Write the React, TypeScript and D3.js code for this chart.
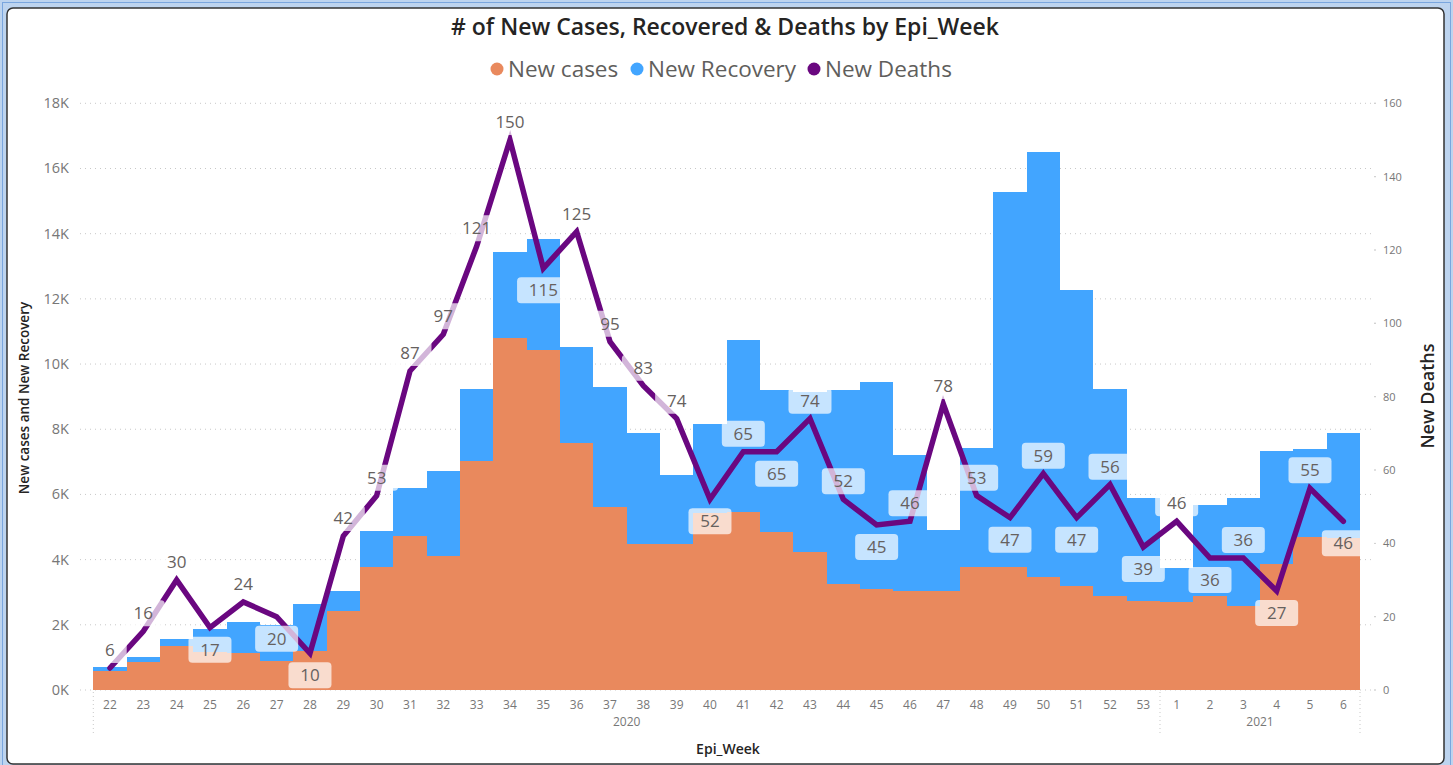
import { useEffect, useRef } from 'react'
import * as d3 from 'd3'

const weeks = ['22', '23', '24', '25', '26', '27', '28', '29', '30', '31', '32', '33', '34', '35', '36', '37', '38', '39', '40', '41', '42', '43', '44', '45', '46', '47', '48', '49', '50', '51', '52', '53', '1', '2', '3', '4', '5', '6']
const years = ['2020', '2020', '2020', '2020', '2020', '2020', '2020', '2020', '2020', '2020', '2020', '2020', '2020', '2020', '2020', '2020', '2020', '2020', '2020', '2020', '2020', '2020', '2020', '2020', '2020', '2020', '2020', '2020', '2020', '2020', '2020', '2020', '2021', '2021', '2021', '2021', '2021', '2021']
const newCases = [590, 850, 1360, 1160, 1150, 900, 1200, 2430, 3760, 4730, 4120, 7030, 10790, 10430, 7570, 5600, 4480, 4480, 5420, 5450, 4840, 4220, 3250, 3100, 3050, 3050, 3760, 3760, 3460, 3200, 2890, 2740, 2690, 2890, 2590, 3870, 4680, 4650]
const newRecovery = [110, 150, 200, 710, 930, 1080, 1440, 620, 1130, 1460, 2610, 2220, 2650, 3420, 2960, 3700, 3390, 2110, 2740, 5290, 4360, 4930, 5950, 6360, 4160, 1860, 3650, 11520, 13050, 9070, 6360, 3140, 1040, 2780, 3290, 3470, 2710, 3220]
const newDeaths = [6, 16, 30, 17, 24, 20, 10, 42, 53, 87, 97, 121, 150, 115, 125, 95, 83, 74, 52, 65, 65, 74, 52, 45, 46, 78, 53, 47, 59, 47, 56, 39, 46, 36, 36, 27, 55, 46]
// label above (1) or below (0) the point, as Power BI placed them
const labelAbove = [1, 1, 1, 0, 1, 0, 0, 1, 1, 1, 1, 1, 1, 0, 1, 1, 1, 1, 0, 1, 0, 1, 1, 0, 1, 1, 1, 0, 1, 0, 1, 0, 1, 0, 1, 0, 1, 0]
const leftTicks = [0, 2000, 4000, 6000, 8000, 10000, 12000, 14000, 16000, 18000]
const rightTicks = [0, 20, 40, 60, 80, 100, 120, 140, 160]

const W = 1453
const H = 765
const FONT = "'Segoe UI', 'Open Sans', sans-serif"
const ORANGE = '#E9895D'
const BLUE = '#42A5FF'
const PURPLE = '#6A0780'

export default function App() {
  const svgRef = useRef<SVGSVGElement>(null)

  useEffect(() => {
    if (!svgRef.current) return
    const svg = d3.select(svgRef.current)
    svg.selectAll('*').remove()

    const left = 93.3
    const right = 1360
    const top = 103.3
    const bottom = 690

    // frame
    svg.append('rect').attr('width', W).attr('height', H).attr('fill', '#BDD4EF')
    svg.append('rect').attr('x', 2.5).attr('y', 2.5).attr('width', W - 5).attr('height', H).attr('fill', 'none')
      .attr('stroke', '#7AA6DE').attr('stroke-width', 1)
    svg.append('rect').attr('x', 7).attr('y', 8).attr('width', 1437).attr('height', 756).attr('rx', 6)
      .attr('fill', '#fff').attr('stroke', '#333').attr('stroke-width', 1.5)

    const x = d3.scaleBand<string>().domain(d3.range(weeks.length).map(String)).range([left, right]).padding(0)
    const y = d3.scaleLinear().domain([0, 18000]).range([bottom, top])
    const y2 = d3.scaleLinear().domain([0, 160]).range([bottom, top])

    // title
    svg.append('text').attr('x', 725).attr('y', 35).attr('text-anchor', 'middle')
      .style('font-family', FONT).style('font-size', '23px').style('font-weight', '600').style('fill', '#252423')
      .text('# of New Cases, Recovered & Deaths by Epi_Week')

    // legend
    const legend = [
      { label: 'New cases', color: ORANGE, cx: 497 },
      { label: 'New Recovery', color: BLUE, cx: 637 },
      { label: 'New Deaths', color: PURPLE, cx: 814 },
    ]
    legend.forEach(l => {
      svg.append('circle').attr('cx', l.cx).attr('cy', 69).attr('r', 6.5).attr('fill', l.color)
      svg.append('text').attr('x', l.cx + 11).attr('y', 77)
        .style('font-family', FONT).style('font-size', '22.5px').style('fill', '#605E5C').text(l.label)
    })

    // gridlines
    svg.append('g').selectAll('line').data(leftTicks).enter().append('line')
      .attr('x1', 80).attr('x2', 1372).attr('y1', d => y(d)).attr('y2', d => y(d))
      .attr('stroke', '#C8C8C8').attr('stroke-width', 1).attr('stroke-dasharray', '1,4')

    // left axis
    svg.append('g').selectAll('text').data(leftTicks).enter().append('text')
      .attr('x', 69).attr('y', d => y(d) + 5).attr('text-anchor', 'end')
      .style('font-family', FONT).style('font-size', '14.5px').style('fill', '#777')
      .text(d => `${d / 1000}K`)

    // right axis
    svg.append('g').selectAll('text').data(rightTicks).enter().append('text')
      .attr('x', 1383).attr('y', d => y2(d) + 4)
      .style('font-family', FONT).style('font-size', '11px').style('fill', '#777')
      .text(d => d)
    svg.append('g').selectAll('circle').data(rightTicks).enter().append('circle')
      .attr('cx', 1375).attr('cy', d => y2(d)).attr('r', 0.7).attr('fill', '#aaa')

    // axis titles
    svg.append('text').attr('transform', 'translate(29,398) rotate(-90)').attr('text-anchor', 'middle')
      .style('font-family', FONT).style('font-size', '13.5px').style('font-weight', '600').style('fill', '#252423')
      .text('New cases and New Recovery')
    svg.append('text').attr('transform', 'translate(1434,396) rotate(-90)').attr('text-anchor', 'middle')
      .style('font-family', FONT).style('font-size', '18px').style('font-weight', '600').style('fill', '#252423')
      .text('New Deaths')
    svg.append('text').attr('x', 728).attr('y', 754).attr('text-anchor', 'middle')
      .style('font-family', FONT).style('font-size', '14px').style('font-weight', '600').style('fill', '#252423')
      .text('Epi_Week')

    // stacked bars
    const rows = weeks.map((w, i) => ({ key: String(i), cases: newCases[i], recovery: newRecovery[i] }))
    const stack = d3.stack<{ key: string; cases: number; recovery: number }>().keys(['cases', 'recovery'])
    const series = stack(rows)
    const colors = [ORANGE, BLUE]
    series.forEach((s, si) => {
      svg.append('g').selectAll('rect').data(s).enter().append('rect')
        .attr('x', d => x(d.data.key)!)
        .attr('width', x.bandwidth())
        .attr('y', d => y(d[1]))
        .attr('height', d => y(d[0]) - y(d[1]))
        .attr('fill', colors[si])
        .attr('shape-rendering', 'crispEdges')
    })

    // x tick labels
    svg.append('g').selectAll('text').data(weeks).enter().append('text')
      .attr('x', (d, i) => x(String(i))! + x.bandwidth() / 2).attr('y', 709).attr('text-anchor', 'middle')
      .style('font-family', FONT).style('font-size', '12px').style('fill', '#777')
      .text(d => d)

    // year groups
    const yearNames = Array.from(new Set(years))
    const bounds = yearNames.map(yr => {
      const idx = years.map((v, i) => (v === yr ? i : -1)).filter(i => i >= 0)
      return { yr, x0: x(String(idx[0]))!, x1: x(String(idx[idx.length - 1]))! + x.bandwidth() }
    })
    bounds.forEach(b => {
      svg.append('text').attr('x', (b.x0 + b.x1) / 2).attr('y', 726).attr('text-anchor', 'middle')
        .style('font-family', FONT).style('font-size', '12px').style('fill', '#777').text(b.yr)
    })
    const seps = [bounds[0].x0, bounds[0].x1, bounds[1].x1]
    svg.append('g').selectAll('line').data(seps).enter().append('line')
      .attr('x1', d => d).attr('x2', d => d).attr('y1', 692).attr('y2', 736)
      .attr('stroke', '#C8C8C8').attr('stroke-dasharray', '1,3')

    // deaths line
    const cx = (i: number) => x(String(i))! + x.bandwidth() / 2
    const line = d3.line<number>().x((d, i) => cx(i)).y(d => y2(d))
    svg.append('path').datum(newDeaths).attr('d', line)
      .attr('fill', 'none').attr('stroke', PURPLE).attr('stroke-width', 5.5)
      .attr('stroke-linejoin', 'miter').attr('stroke-linecap', 'round')

    // data labels
    const lab = svg.append('g').selectAll('g').data(newDeaths).enter().append('g')
      .attr('transform', (d, i) => `translate(${cx(i)},${y2(d) + (labelAbove[i] ? -18 : 22)})`)
    lab.append('rect')
      .attr('x', d => -(String(d).length * 9.5 + 24) / 2)
      .attr('width', d => String(d).length * 9.5 + 24)
      .attr('y', -13).attr('height', 26).attr('rx', 4)
      .attr('fill', '#fff').attr('fill-opacity', 0.7)
    lab.append('text').attr('text-anchor', 'middle').attr('y', 6)
      .style('font-family', FONT).style('font-size', '17px').style('fill', '#66615E')
      .text(d => d)
  }, [])

  return (
    <svg
      ref={svgRef}
      width={W}
      height={H}
      style={{ position: 'absolute', left: 0, top: 0, display: 'block' }}
    />
  )
}
